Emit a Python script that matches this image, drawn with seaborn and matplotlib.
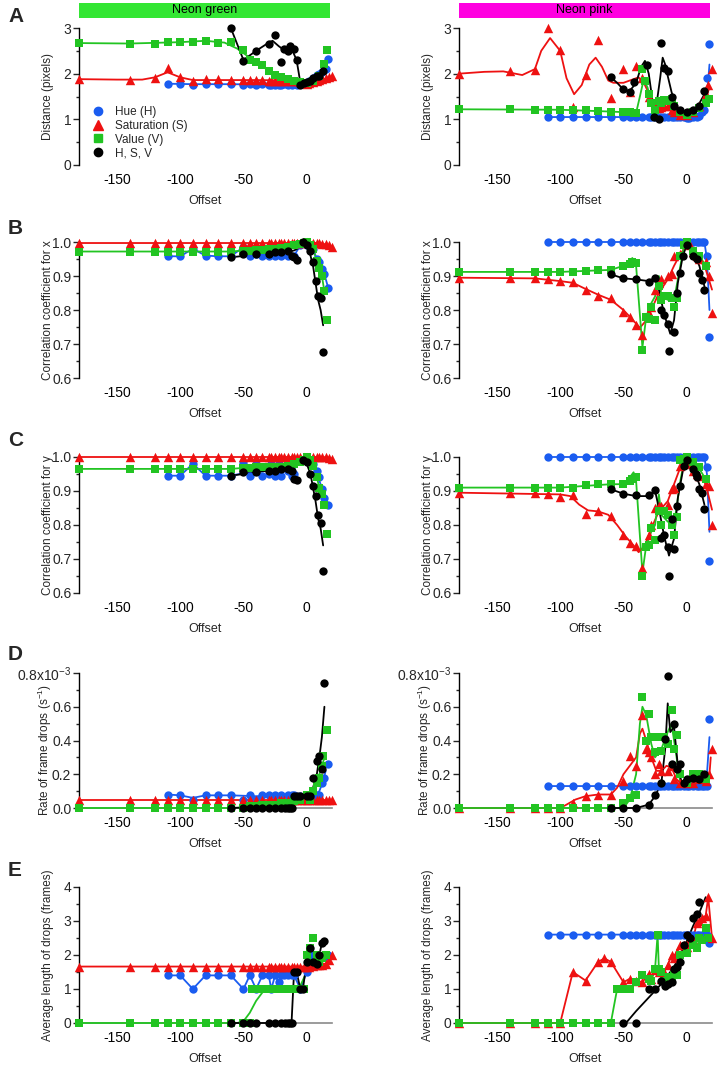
import matplotlib
matplotlib.use("Agg")
import matplotlib.pyplot as plt
from matplotlib.patches import Rectangle
from matplotlib.lines import Line2D
from matplotlib.ticker import MultipleLocator
import seaborn as sns

sns.set_theme(style="ticks")
plt.rcParams['font.family'] = ['Liberation Sans', 'DejaVu Sans']
plt.rcParams['axes.unicode_minus'] = False

# ---------------- data ----------------
SERIES = ['H', 'S', 'V', 'HSV']
LABELS = ['Hue (H)', 'Saturation (S)', 'Value (V)', 'H, S, V']
COLORS = {'H': '#1a5cf0', 'S': '#ee1111', 'V': '#22c422', 'HSV': '#000000'}
MARKERS = {'H': 'o', 'S': '^', 'V': 's', 'HSV': 'o'}
OFFSET_TICKS = [-150, -100, -50, 0]
BAND_TITLES = ['Neon green', 'Neon pink']
BAND_COLORS = ['#33e633', '#ff00e0']
PANEL_LETTERS = ['A', 'B', 'C', 'D', 'E']

X_S_LONG = [-180, -140, -120, -110, -100, -90, -80, -70, -60, -50, -45, -40, -35, -30, -28, -25, -22, -20,
            -18, -15, -12, -10, -8, -5, -2, 0, 2, 5, 8, 10, 12, 15, 18, 20]
X_H_PINK = [-110, -100, -90, -80, -70, -60, -50, -45, -40, -35, -30, -28, -25, -22, -20, -18, -15, -12,
            -10, -8, -5, -2, 0, 2, 5, 8, 10, 12, 14, 16, 18]

# --- A: distance, neon green ---
AL_H_x = [-110, -100, -90, -80, -70, -60, -50, -45, -40, -35, -30, -28, -25, -22, -20, -18, -15, -12, -10, -8,
          -5, -2, 0, 2, 5, 8, 10, 12, 15, 17]
AL_H_y = [1.78, 1.78, 1.76, 1.78, 1.78, 1.77, 1.76, 1.77, 1.76, 1.77, 1.76, 1.76, 1.76, 1.76, 1.76, 1.77, 1.76,
          1.76, 1.77, 1.76, 1.77, 1.78, 1.8, 1.84, 1.9, 1.97, 2.0, 2.04, 2.1, 2.33]
AL_H_cx = [-110, -90, -60, -30, -10, 0, 5, 10, 15]
AL_H_cy = [1.78, 1.77, 1.77, 1.76, 1.76, 1.78, 1.88, 1.98, 2.1]
AL_S_y = [1.88, 1.86, 1.9, 2.13, 1.92, 1.84, 1.88, 1.88, 1.87, 1.86, 1.86, 1.86, 1.86, 1.85, 1.85, 1.85, 1.85,
          1.85, 1.85, 1.85, 1.85, 1.84, 1.84, 1.82, 1.8, 1.78, 1.8, 1.82, 1.85, 1.87, 1.88, 1.9, 1.93, 1.95]
AL_S_cx = [-180, -150, -130, -120, -110, -100, -90, -70, -40, -10, 0, 10, 20]
AL_S_cy = [1.88, 1.87, 1.87, 1.92, 2.03, 1.92, 1.86, 1.86, 1.86, 1.85, 1.8, 1.85, 1.93]
AL_V_x = [-180, -140, -120, -110, -100, -90, -80, -70, -60, -50, -45, -40, -35, -30, -25, -20, -15, -10, -5, 0,
          5, 10, 14, 16]
AL_V_y = [2.67, 2.66, 2.66, 2.69, 2.69, 2.7, 2.72, 2.68, 2.69, 2.51, 2.3, 2.25, 2.2, 2.05, 1.98, 1.93, 1.88,
          1.85, 1.82, 1.8, 1.85, 1.95, 2.22, 2.52]
AL_V_cx = [-180, -140, -100, -80, -65, -55, -45, -35, -25, -15, -5, 0, 5, 10, 15]
AL_V_cy = [2.67, 2.66, 2.69, 2.72, 2.68, 2.55, 2.35, 2.15, 2.0, 1.88, 1.8, 1.8, 1.88, 2.0, 2.15]
AL_K_x = [-60, -50, -40, -30, -25, -20, -18, -15, -13, -10, -8, -5, -2, 0, 3, 5, 8, 10, 13]
AL_K_y = [3.0, 2.28, 2.5, 2.65, 2.85, 2.25, 2.55, 2.5, 2.6, 2.55, 2.3, 1.75, 1.8, 1.82, 1.85, 1.9, 1.95, 1.95, 2.05]
AL_K_cx = [-60, -50, -40, -30, -27, -22, -18, -12, -8, -5, 0, 5, 10, 13]
AL_K_cy = [3.0, 2.3, 2.5, 2.68, 2.72, 2.6, 2.52, 2.55, 2.3, 1.8, 1.82, 1.88, 1.95, 2.0]

# --- A: distance, neon pink ---
AR_H_y = [1.05, 1.05, 1.05, 1.05, 1.05, 1.05, 1.05, 1.05, 1.05, 1.05, 1.05, 1.05, 1.05, 1.05, 1.05, 1.05,
          1.05, 1.05, 1.05, 1.05, 1.05, 1.05, 1.04, 1.04, 1.05, 1.06, 1.08, 1.15, 1.2, 1.9, 2.65]
AR_H_cx = [-110, -60, -20, 0, 10, 14, 16, 18]
AR_H_cy = [1.05, 1.05, 1.05, 1.04, 1.06, 1.15, 1.5, 2.2]
AR_S_x = [-180, -140, -120, -110, -100, -90, -80, -70, -60, -50, -45, -40, -35, -30, -28, -25, -22, -20, -18,
          -15, -12, -10, -5, 0, 5, 10, 15, 17, 20]
AR_S_y = [2.0, 2.05, 2.08, 2.99, 2.52, 1.27, 1.97, 2.73, 1.47, 2.1, 1.6, 2.17, 1.9, 1.5, 1.4, 1.3, 1.25, 1.28,
          1.3, 1.3, 1.2, 1.15, 1.1, 1.1, 1.15, 1.3, 1.55, 1.75, 2.1]
AR_S_cx = [-180, -160, -145, -130, -120, -115, -108, -100, -95, -89, -83, -77, -72, -67, -62, -58, -50, -45,
           -38, -33, -28, -22, -15, -8, -3, 0, 5, 10, 15, 18]
AR_S_cy = [2.0, 2.04, 2.05, 1.97, 2.1, 2.5, 2.78, 2.5, 1.9, 1.55, 1.75, 2.2, 2.35, 2.15, 1.85, 1.8, 1.8, 1.85,
           1.92, 1.75, 1.45, 1.3, 1.25, 1.15, 1.1, 1.1, 1.12, 1.25, 1.45, 1.7]
AR_V_x = [-180, -140, -120, -110, -100, -90, -80, -70, -60, -50, -45, -42, -40, -35, -33, -30, -28, -25, -22,
          -20, -18, -15, -12, -10, -5, 0, 5, 10, 15, 18]
AR_V_y = [1.22, 1.22, 1.21, 1.21, 1.21, 1.2, 1.2, 1.19, 1.17, 1.16, 1.15, 1.14, 1.14, 2.1, 1.85, 1.55, 1.35,
          1.2, 1.4, 1.35, 1.42, 1.4, 1.45, 1.3, 1.15, 1.1, 1.15, 1.25, 1.35, 1.45]
AR_V_cx = [-180, -100, -60, -45, -40, -37, -34, -31, -28, -25, -22, -18, -12, -8, -3, 0, 5, 10, 15, 18]
AR_V_cy = [1.22, 1.21, 1.17, 1.15, 1.14, 1.5, 1.87, 1.7, 1.4, 1.25, 1.35, 1.4, 1.42, 1.25, 1.12, 1.1, 1.15,
           1.22, 1.33, 1.45]
AR_K_x = [-60, -50, -45, -42, -31, -26, -22, -20, -18, -15, -12, -10, -5, 0, 5, 10, 14]
AR_K_y = [1.93, 1.66, 1.6, 1.82, 2.19, 1.05, 1.0, 2.67, 2.12, 2.05, 1.5, 1.3, 1.2, 1.15, 1.2, 1.3, 1.62]
AR_K_cx = [-60, -55, -50, -45, -40, -36, -33, -30, -27, -24, -21, -19, -17, -15, -12, -8, -4, 0, 5, 10, 15]
AR_K_cy = [1.92, 1.8, 1.65, 1.62, 1.8, 2.15, 2.28, 2.0, 1.4, 1.3, 1.9, 2.35, 2.2, 1.95, 1.6, 1.25, 1.12, 1.1,
           1.2, 1.35, 1.6]

# --- B: correlation x, neon green ---
BL_H_x = [-110, -100, -90, -80, -70, -60, -50, -45, -40, -35, -30, -25, -20, -15, -10, -5, 0, 5, 8, 10, 12, 14, 17]
BL_H_y = [0.958, 0.958, 0.98, 0.96, 0.958, 0.958, 0.985, 0.958, 0.965, 0.958, 0.958, 0.96, 0.958, 0.958, 0.96,
          0.99, 0.99, 0.98, 0.95, 0.94, 0.92, 0.905, 0.865]
BL_S_y = [0.997] * 25 + [1.0, 0.999, 0.998, 0.997, 0.996, 0.995, 0.993, 0.99, 0.985]
X_V_GREEN = [-180, -140, -120, -110, -100, -90, -80, -70, -60, -50, -45, -40, -35, -30, -25, -20, -15, -10, -5,
             -2, 0, 3, 5, 8, 10, 12, 14, 16]
BL_V_y = [0.972, 0.972, 0.972, 0.972, 0.972, 0.972, 0.972, 0.972, 0.972, 0.975, 0.975, 0.976, 0.977, 0.978,
          0.98, 0.982, 0.985, 0.99, 0.993, 0.996, 1.0, 0.99, 0.98, 0.945, 0.925, 0.9, 0.855, 0.772]
X_K_GREEN = [-60, -50, -40, -30, -25, -20, -15, -12, -10, -8, -3, 0, 3, 5, 7, 9, 11, 13]
BL_K_y = [0.955, 0.965, 0.965, 0.965, 0.97, 0.97, 0.975, 0.96, 0.955, 0.948, 1.0, 0.99, 0.975, 0.94, 0.885,
          0.84, 0.835, 0.675]
BL_K_cx = [-60, -40, -20, -10, -5, -2, 0, 3, 5, 7, 9, 11, 13]
BL_K_cy = [0.955, 0.963, 0.968, 0.975, 0.985, 0.99, 0.985, 0.96, 0.93, 0.88, 0.83, 0.8, 0.755]

# --- B: correlation x, neon pink ---
BR_H_y = [1.0] * 29 + [0.958, 0.72]
BR_H_cx = [-110, 14, 16, 18]
BR_H_cy = [1.0, 1.0, 0.95, 0.8]
X_S_PINK = [-180, -140, -120, -110, -100, -90, -80, -70, -60, -50, -45, -40, -35, -30, -28, -25, -22, -20, -15,
            -12, -10, -5, 0, 3, 5, 8, 10, 15, 18, 20]
BR_S_y = [0.895, 0.895, 0.893, 0.89, 0.884, 0.883, 0.86, 0.84, 0.835, 0.795, 0.78, 0.757, 0.727, 0.79, 0.81,
          0.86, 0.88, 0.89, 0.9, 0.905, 0.96, 0.965, 0.995, 0.99, 0.97, 0.96, 0.95, 0.94, 0.9, 0.79]
BR_S_cx = [-180, -120, -100, -90, -80, -70, -60, -50, -45, -40, -37, -33, -28, -22, -15, -10, -5, 0, 2, 5, 10,
           15, 20]
BR_S_cy = [0.895, 0.893, 0.885, 0.88, 0.862, 0.845, 0.83, 0.8, 0.78, 0.76, 0.748, 0.765, 0.8, 0.85, 0.89, 0.93,
           0.965, 0.99, 1.0, 0.98, 0.95, 0.92, 0.86]
X_V_PINK = [-180, -140, -120, -110, -100, -90, -80, -70, -60, -50, -45, -43, -40, -35, -32, -30, -28, -25, -22,
            -20, -18, -15, -12, -10, -8, -5, -2, 0, 5, 10, 15]
BR_V_y = [0.912, 0.912, 0.912, 0.912, 0.912, 0.913, 0.915, 0.918, 0.918, 0.93, 0.935, 0.94, 0.938, 0.683, 0.78,
          0.775, 0.81, 0.77, 0.87, 0.83, 0.84, 0.84, 0.835, 0.81, 0.835, 0.96, 0.99, 1.0, 0.975, 0.96, 0.93]
BR_V_cx = [-180, -100, -60, -50, -45, -43, -40, -35, -32, -28, -25, -22, -20, -15, -10, -5, -2, 0, 5, 10, 15]
BR_V_cy = [0.912, 0.912, 0.918, 0.93, 0.94, 0.953, 0.93, 0.69, 0.78, 0.82, 0.84, 0.9, 0.84, 0.83, 0.83, 0.93,
           0.99, 0.995, 0.98, 0.96, 0.93]
BR_K_x = [-60, -50, -40, -30, -25, -20, -18, -15, -14, -10, -8, -5, -3, 0, 5, 8, 10, 12, 14]
BR_K_y = [0.907, 0.893, 0.892, 0.882, 0.895, 0.8, 0.785, 0.76, 0.68, 0.735, 0.85, 0.91, 0.96, 0.99, 0.96, 0.95,
          0.91, 0.888, 0.86]
BR_K_cx = [-60, -50, -40, -30, -25, -22, -18, -13, -10, -7, -3, 0, 5, 10, 14]
BR_K_cy = [0.905, 0.893, 0.89, 0.885, 0.895, 0.86, 0.79, 0.73, 0.77, 0.88, 0.96, 0.99, 0.97, 0.93, 0.87]

# --- C: correlation y, neon green ---
CL_H_x = [-110, -100, -90, -80, -70, -60, -50, -45, -40, -35, -30, -28, -25, -22, -20, -15, -12, -10, -5, 0, 5,
          8, 10, 12, 14, 17]
CL_H_y = [0.945, 0.945, 0.98, 0.945, 0.945, 0.945, 0.983, 0.945, 0.98, 0.945, 0.95, 0.98, 0.945, 0.98, 0.945,
          0.96, 0.945, 0.95, 0.99, 0.99, 0.98, 0.96, 0.94, 0.905, 0.88, 0.858]
CL_H_cx = [-110, -100, -90, -80, -70, -60, -40, -20, -10, -5, 0, 5, 10, 15, 17]
CL_H_cy = [0.945, 0.945, 0.98, 0.945, 0.945, 0.945, 0.96, 0.96, 0.965, 0.985, 0.99, 0.975, 0.93, 0.88, 0.86]
CL_S_y = [1.0] * 31 + [0.999, 0.998, 0.995]
CL_V_y = [0.965] * 9 + [0.968, 0.968, 0.97, 0.97, 0.97, 0.97, 0.972, 0.975, 0.978, 0.985, 0.99, 1.0, 0.99,
                        0.975, 0.94, 0.91, 0.89, 0.86, 0.775]
CL_K_y = [0.945, 0.955, 0.955, 0.96, 0.96, 0.965, 0.965, 0.96, 0.935, 0.932, 0.99, 0.985, 0.95, 0.915, 0.885,
          0.83, 0.805, 0.665]
CL_K_cx = [-60, -40, -20, -10, -5, -2, 0, 3, 5, 7, 9, 11, 13]
CL_K_cy = [0.945, 0.955, 0.965, 0.97, 0.985, 0.99, 0.98, 0.95, 0.91, 0.87, 0.82, 0.79, 0.74]

# --- C: correlation y, neon pink ---
CR_H_y = [1.0] * 29 + [0.97, 0.695]
CR_H_cx = [-110, 14, 16, 18]
CR_H_cy = [1.0, 1.0, 0.95, 0.78]
CR_S_y = [0.895, 0.895, 0.893, 0.89, 0.882, 0.887, 0.832, 0.842, 0.826, 0.77, 0.748, 0.737, 0.675, 0.77, 0.8,
          0.85, 0.855, 0.855, 0.86, 0.905, 0.91, 0.975, 0.99, 0.98, 0.96, 0.95, 0.945, 0.92, 0.915, 0.8]
CR_S_cx = [-180, -100, -92, -85, -78, -70, -62, -55, -48, -42, -38, -33, -28, -22, -15, -10, -5, 0, 5, 10, 15, 20]
CR_S_cy = [0.895, 0.89, 0.885, 0.86, 0.843, 0.84, 0.83, 0.8, 0.765, 0.74, 0.72, 0.74, 0.79, 0.84, 0.87, 0.92,
           0.97, 0.99, 0.975, 0.95, 0.92, 0.845]
CR_V_y = [0.91, 0.91, 0.91, 0.91, 0.91, 0.91, 0.918, 0.92, 0.922, 0.92, 0.93, 0.935, 0.94, 0.65, 0.735, 0.74,
          0.79, 0.755, 0.84, 0.8, 0.84, 0.83, 0.8, 0.77, 0.825, 0.99, 0.995, 1.0, 0.985, 0.97, 0.935]
CR_V_cx = [-180, -100, -60, -50, -45, -42, -40, -35, -32, -28, -25, -22, -20, -15, -10, -5, -2, 0, 5, 10, 15]
CR_V_cy = [0.91, 0.91, 0.92, 0.92, 0.94, 0.955, 0.93, 0.66, 0.74, 0.78, 0.8, 0.89, 0.83, 0.81, 0.8, 0.93, 0.99,
           1.0, 0.985, 0.965, 0.935]
CR_K_x = [-60, -50, -40, -30, -25, -20, -18, -15, -14, -12, -10, -8, -5, -2, 0, 5, 7, 8, 10, 12, 14]
CR_K_y = [0.907, 0.892, 0.888, 0.887, 0.902, 0.762, 0.77, 0.735, 0.65, 0.818, 0.728, 0.857, 0.915, 0.975, 0.99,
          0.965, 0.95, 0.94, 0.905, 0.895, 0.848]
CR_K_cx = [-60, -50, -40, -30, -25, -22, -18, -14, -10, -7, -3, 0, 5, 10, 14]
CR_K_cy = [0.905, 0.892, 0.885, 0.885, 0.9, 0.85, 0.77, 0.71, 0.76, 0.88, 0.96, 0.99, 0.965, 0.92, 0.86]

# --- D: rate of frame drops (x10^-3), neon green ---
DL_H_x = [-110, -100, -90, -80, -70, -60, -50, -45, -40, -35, -30, -25, -20, -15, -12, -10, -5, 0, 5, 8, 10, 12,
          14, 17]
DL_H_y = [0.08, 0.08, 0.05, 0.08, 0.08, 0.08, 0.05, 0.08, 0.05, 0.08, 0.08, 0.08, 0.08, 0.08, 0.08, 0.08, 0.07,
          0.07, 0.06, 0.08, 0.08, 0.15, 0.18, 0.26]
DL_H_cx = [-110, -100, -90, -80, -60, -40, -20, -10, 0, 5, 10, 13, 15]
DL_H_cy = [0.08, 0.075, 0.06, 0.075, 0.075, 0.07, 0.075, 0.07, 0.06, 0.06, 0.1, 0.16, 0.22]
DL_S_y = [0.05] * 34
DL_V_x = [-180, -140, -120, -110, -100, -90, -80, -70, -60, -50, -45, -40, -35, -30, -25, -20, -15, -10, -5, 0,
          3, 5, 8, 10, 12, 13, 16]
DL_V_y = [0, 0, 0, 0, 0, 0, 0, 0, 0, 0, 0.01, 0.01, 0.02, 0.02, 0.02, 0.03, 0.03, 0.04, 0.05, 0.08, 0.05, 0.1,
          0.15, 0.18, 0.25, 0.31, 0.46]
DL_V_cx = [-180, -60, -50, -40, -30, -20, -10, -5, 0, 5, 8, 10, 12, 15]
DL_V_cy = [0, 0, 0.003, 0.01, 0.015, 0.02, 0.03, 0.04, 0.06, 0.1, 0.15, 0.2, 0.25, 0.32]
DL_K_x = [-60, -50, -45, -40, -35, -30, -25, -20, -17, -15, -13, -12, -10, -8, -5, 0, 3, 5, 8, 10, 12, 14]
DL_K_y = [0, 0, 0, 0, 0, 0, 0, 0, 0, 0, 0, 0, 0.07, 0.07, 0.07, 0.07, 0.07, 0.18, 0.28, 0.31, 0.23, 0.74]
DL_K_cx = [-60, -40, -20, -10, -5, 0, 3, 5, 8, 10, 12, 14]
DL_K_cy = [0, 0.005, 0.01, 0.02, 0.03, 0.05, 0.08, 0.12, 0.2, 0.3, 0.42, 0.6]

# --- D: rate of frame drops (x10^-3), neon pink ---
DR_H_y = [0.13] * 30 + [0.53]
DR_H_cx = [-110, 15, 16, 18]
DR_H_cy = [0.13, 0.13, 0.2, 0.42]
DR_S_x = [-180, -140, -120, -110, -100, -90, -80, -70, -60, -50, -45, -40, -35, -32, -30, -28, -25, -22, -20,
          -15, -12, -10, -5, 0, 5, 10, 15, 18, 20]
DR_S_y = [0, 0, 0, 0, 0, 0.03, 0.07, 0.08, 0.08, 0.16, 0.31, 0.25, 0.55, 0.35, 0.33, 0.3, 0.2, 0.26, 0.22, 0.22,
          0.25, 0.17, 0.15, 0.15, 0.15, 0.17, 0.16, 0.2, 0.35]
DR_S_cx = [-180, -100, -95, -88, -80, -70, -60, -55, -50, -45, -40, -37, -35, -32, -28, -24, -20, -16, -12, -8,
           -5, 0, 5, 10, 15, 18, 19]
DR_S_cy = [0, 0, 0.02, 0.05, 0.07, 0.08, 0.08, 0.12, 0.2, 0.25, 0.3, 0.44, 0.47, 0.4, 0.3, 0.22, 0.22, 0.25,
           0.24, 0.17, 0.15, 0.14, 0.15, 0.15, 0.17, 0.2, 0.3]
DR_V_x = [-180, -140, -120, -110, -100, -90, -80, -70, -60, -50, -45, -40, -35, -32, -30, -28, -25, -22, -20,
          -18, -15, -12, -10, -8, -5, 0, 5, 10, 15]
DR_V_y = [0, 0, 0, 0, 0, 0, 0, 0, 0, 0.03, 0.06, 0.08, 0.66, 0.4, 0.56, 0.42, 0.33, 0.42, 0.34, 0.42, 0.38, 0.58,
          0.35, 0.43, 0.2, 0.15, 0.2, 0.2, 0.17]
DR_V_cx = [-180, -50, -45, -40, -37, -35, -32, -28, -25, -20, -15, -12, -8, -5, 0, 5, 10, 15]
DR_V_cy = [0, 0, 0.05, 0.2, 0.5, 0.6, 0.55, 0.38, 0.3, 0.35, 0.45, 0.5, 0.3, 0.15, 0.13, 0.16, 0.18, 0.17]
DR_K_x = [-60, -50, -40, -30, -25, -20, -17, -15, -12, -10, -8, -5, -2, 0, 5, 10, 14]
DR_K_y = [0, 0, 0, 0.02, 0.08, 0.15, 0.41, 0.78, 0.26, 0.5, 0.23, 0.26, 0.15, 0.17, 0.18, 0.17, 0.2]
DR_K_cx = [-60, -40, -30, -25, -20, -17, -15, -13, -10, -7, -4, 0, 5, 10, 14]
DR_K_cy = [0, 0, 0.02, 0.07, 0.15, 0.35, 0.62, 0.45, 0.48, 0.25, 0.15, 0.15, 0.17, 0.17, 0.18]

# --- E: average length of drops, neon green ---
EL_H_x = [-110, -100, -90, -80, -70, -60, -50, -45, -40, -35, -30, -28, -25, -22, -20, -18, -15, -12, -10, -5,
          0, 5, 8, 10, 14, 17]
EL_H_y = [1.4, 1.4, 1.0, 1.4, 1.4, 1.4, 1.0, 1.4, 1.0, 1.4, 1.4, 1.0, 1.4, 1.2, 1.4, 1.4, 1.4, 1.4, 1.4, 1.0,
          1.5, 2.0, 2.0, 1.9, 1.95, 2.0]
EL_S_y = [1.66] * 27 + [1.68, 1.7, 1.7, 1.72, 1.75, 1.85, 2.0]
EL_V_x = [-180, -140, -120, -110, -100, -90, -80, -70, -60, -50, -45, -43, -40, -38, -35, -33, -30, -28, -25,
          -22, -20, -18, -15, -12, -10, -8, -5, -2, 0, 3, 5, 8, 10, 12, 15]
EL_V_y = [0] * 11 + [1.0] * 17 + [2.0, 2.2, 2.5, 2.0, 1.8, 1.9, 2.0]
EL_V_cx = [-180, -55, -50, -45, -40, -35, -30, -20, -10, -5, 0, 3, 5, 10, 15]
EL_V_cy = [0, 0, 0.05, 0.3, 0.65, 0.9, 1.0, 1.0, 1.02, 1.1, 1.5, 1.85, 2.0, 2.0, 2.0]
EL_K_x = [-60, -50, -45, -40, -30, -25, -20, -17, -15, -13, -12, -10, -8, -5, -3, 0, 3, 5, 8, 10, 12, 14]
EL_K_y = [0, 0, 0, 0, 0, 0, 0, 0, 0, 0, 0, 1.5, 1.5, 1.0, 1.0, 1.8, 2.2, 1.8, 1.75, 2.0, 2.35, 2.4]

# --- E: average length of drops, neon pink ---
ER_H_y = [2.6] * 30 + [2.35]
ER_S_x = [-180, -140, -120, -110, -100, -90, -80, -70, -65, -60, -50, -45, -40, -35, -30, -28, -25, -22, -20,
          -18, -15, -12, -10, -8, -5, -2, 0, 3, 5, 8, 10, 12, 15, 17, 20]
ER_S_y = [0, 0, 0, 0, 0, 1.5, 1.25, 1.8, 1.9, 1.8, 1.2, 1.3, 1.25, 1.2, 1.45, 1.3, 1.55, 1.5, 1.3, 1.5, 1.7,
          2.0, 1.9, 2.1, 2.3, 2.3, 2.25, 2.5, 2.45, 2.95, 3.0, 3.1, 3.15, 3.7, 2.5]
ER_V_x = [-180, -140, -120, -110, -100, -90, -80, -70, -60, -55, -50, -45, -40, -35, -30, -28, -25, -23, -22,
          -20, -18, -15, -12, -10, -8, -5, 0, 5, 8, 10, 12, 15, 17]
ER_V_y = [0, 0, 0, 0, 0, 0, 0, 0, 0, 1.0, 1.0, 1.0, 1.2, 1.4, 1.3, 1.25, 1.6, 2.6, 1.6, 1.5, 1.25, 1.35, 1.3,
          1.4, 1.4, 2.0, 2.05, 2.3, 2.2, 2.5, 2.45, 2.8, 2.5]
ER_K_x = [-50, -40, -30, -25, -20, -17, -15, -12, -10, -8, -5, -2, 0, 3, 5, 8, 10]
ER_K_y = [0, 0, 1.0, 1.0, 1.25, 1.1, 1.15, 1.2, 1.6, 1.65, 1.8, 2.3, 2.6, 2.5, 3.1, 3.2, 3.55]
ER_K_cx = [-48, -40, -30, -20, -10, 0, 5, 10, 15]
ER_K_cy = [0, 0.35, 0.75, 1.15, 1.65, 2.4, 2.85, 3.25, 3.7]

# ---------------- assemble (points x, y, curve x, curve y) ----------------
PANELS = {
    ('A', 0): {'H': (AL_H_x, AL_H_y, AL_H_cx, AL_H_cy), 'S': (X_S_LONG, AL_S_y, AL_S_cx, AL_S_cy),
               'V': (AL_V_x, AL_V_y, AL_V_cx, AL_V_cy), 'HSV': (AL_K_x, AL_K_y, AL_K_cx, AL_K_cy)},
    ('A', 1): {'H': (X_H_PINK, AR_H_y, AR_H_cx, AR_H_cy), 'S': (AR_S_x, AR_S_y, AR_S_cx, AR_S_cy),
               'V': (AR_V_x, AR_V_y, AR_V_cx, AR_V_cy), 'HSV': (AR_K_x, AR_K_y, AR_K_cx, AR_K_cy)},
    ('B', 0): {'H': (BL_H_x, BL_H_y, BL_H_x, BL_H_y), 'S': (X_S_LONG, BL_S_y, X_S_LONG, BL_S_y),
               'V': (X_V_GREEN, BL_V_y, X_V_GREEN[:-1], BL_V_y[:-1]),
               'HSV': (X_K_GREEN, BL_K_y, BL_K_cx, BL_K_cy)},
    ('B', 1): {'H': (X_H_PINK, BR_H_y, BR_H_cx, BR_H_cy), 'S': (X_S_PINK, BR_S_y, BR_S_cx, BR_S_cy),
               'V': (X_V_PINK, BR_V_y, BR_V_cx, BR_V_cy), 'HSV': (BR_K_x, BR_K_y, BR_K_cx, BR_K_cy)},
    ('C', 0): {'H': (CL_H_x, CL_H_y, CL_H_cx, CL_H_cy), 'S': (X_S_LONG, CL_S_y, X_S_LONG, CL_S_y),
               'V': (X_V_GREEN, CL_V_y, X_V_GREEN[:-1], CL_V_y[:-1]),
               'HSV': (X_K_GREEN, CL_K_y, CL_K_cx, CL_K_cy)},
    ('C', 1): {'H': (X_H_PINK, CR_H_y, CR_H_cx, CR_H_cy), 'S': (X_S_PINK, CR_S_y, CR_S_cx, CR_S_cy),
               'V': (X_V_PINK, CR_V_y, CR_V_cx, CR_V_cy), 'HSV': (CR_K_x, CR_K_y, CR_K_cx, CR_K_cy)},
    ('D', 0): {'H': (DL_H_x, DL_H_y, DL_H_cx, DL_H_cy), 'S': (X_S_LONG, DL_S_y, X_S_LONG, DL_S_y),
               'V': (DL_V_x, DL_V_y, DL_V_cx, DL_V_cy), 'HSV': (DL_K_x, DL_K_y, DL_K_cx, DL_K_cy)},
    ('D', 1): {'H': (X_H_PINK, DR_H_y, DR_H_cx, DR_H_cy), 'S': (DR_S_x, DR_S_y, DR_S_cx, DR_S_cy),
               'V': (DR_V_x, DR_V_y, DR_V_cx, DR_V_cy), 'HSV': (DR_K_x, DR_K_y, DR_K_cx, DR_K_cy)},
    ('E', 0): {'H': (EL_H_x, EL_H_y, EL_H_x, EL_H_y), 'S': (X_S_LONG, EL_S_y, X_S_LONG, EL_S_y),
               'V': (EL_V_x, EL_V_y, EL_V_cx, EL_V_cy), 'HSV': (EL_K_x, EL_K_y, EL_K_x, EL_K_y)},
    ('E', 1): {'H': (X_H_PINK, ER_H_y, X_H_PINK, ER_H_y), 'S': (ER_S_x, ER_S_y, ER_S_x, ER_S_y),
               'V': (ER_V_x, ER_V_y, ER_V_x, ER_V_y), 'HSV': (ER_K_x, ER_K_y, ER_K_cx, ER_K_cy)},
}

YCFG = {
    'A': dict(lim=(0, 3), ticks=[0, 1, 2, 3], labels=['0', '1', '2', '3'], minor=0.5,
              ylabel='Distance (pixels)', ly=0.5),
    'B': dict(lim=(0.6, 1.0), ticks=[0.6, 0.7, 0.8, 0.9, 1.0], labels=['0.6', '0.7', '0.8', '0.9', '1.0'],
              minor=0.05, ylabel='Correlation coefficient for x', ly=0.5),
    'C': dict(lim=(0.6, 1.0), ticks=[0.6, 0.7, 0.8, 0.9, 1.0], labels=['0.6', '0.7', '0.8', '0.9', '1.0'],
              minor=0.05, ylabel='Correlation coefficient for y', ly=0.5),
    'D': dict(lim=(0, 0.8), ticks=[0, 0.2, 0.4, 0.6, 0.8],
              labels=['0.0', '0.2', '0.4', '0.6', r'0.8x10$^{\mathregular{-3}}$'], minor=0.1,
              ylabel=r'Rate of frame drops (s$^{\mathregular{-1}}$)', ly=0.43),
    'E': dict(lim=(0, 4), ticks=[0, 1, 2, 3, 4], labels=['0', '1', '2', '3', '4'], minor=0.5,
              ylabel='Average length of drops (frames)', ly=0.5),
}

# ---------------- layout (pixels) ----------------
W, H = 718, 1067
ROW_PX = {'A': (28, 165), 'B': (242, 378), 'C': (457, 593), 'D': (673, 808), 'E': (887, 1023)}
COL_LEFT = [79, 459]
AX_W = 253
LETTER_Y = {'A': 16, 'B': 228, 'C': 440, 'D': 655, 'E': 870}

fig = plt.figure(figsize=(W / 100, H / 100), dpi=100)
fig.patch.set_facecolor('white')

for row in PANEL_LETTERS:
    top, bot = ROW_PX[row]
    cfg = YCFG[row]
    for side in (0, 1):
        ax = fig.add_axes([COL_LEFT[side] / W, 1 - bot / H, AX_W / W, (bot - top) / H])
        ax.set_facecolor('white')
        data = PANELS[(row, side)]
        for key in SERIES:
            px, py, cx, cy = data[key]
            sns.lineplot(x=cx, y=cy, ax=ax, color=COLORS[key], lw=1.3, estimator=None, sort=False,
                         zorder=3, clip_on=False)
            sns.scatterplot(x=px, y=py, ax=ax, color=COLORS[key], marker=MARKERS[key],
                            s=46 if key == 'S' else 36, linewidth=0, zorder=4, clip_on=False)
        ax.set_xlim(-180, 20)
        ax.set_ylim(*cfg['lim'])
        ax.set_yticks(cfg['ticks'])
        ax.set_yticklabels(cfg['labels'])
        ax.yaxis.set_minor_locator(MultipleLocator(cfg['minor']))
        ax.set_xticks(OFFSET_TICKS)
        ax.set_xticklabels([str(t) for t in OFFSET_TICKS])
        ax.tick_params(axis='x', length=0, pad=6, labelsize=10, colors='black')
        ax.tick_params(axis='y', which='major', length=4, width=1, pad=1.5, labelsize=10, direction='out')
        ax.tick_params(axis='y', which='minor', length=2.5, width=1, direction='out')
        for sp in ('top', 'right'):
            ax.spines[sp].set_visible(False)
        ax.spines['left'].set_color('black')
        ax.spines['left'].set_linewidth(1)
        if row in ('D', 'E'):
            ax.spines['bottom'].set_color('#8a8a8a')
            ax.spines['bottom'].set_linewidth(1.2)
        else:
            ax.spines['bottom'].set_visible(False)
        ax.set_xlabel('Offset', fontsize=9)
        ax.xaxis.set_label_coords(0.5, -0.22)
        ax.set_ylabel(cfg['ylabel'], fontsize=8.5)
        ax.yaxis.set_label_coords(-0.1, cfg['ly'])
        ax.grid(False)

        if row == 'A':
            ax.add_patch(Rectangle((0, 1.075), 0.992, 0.108, transform=ax.transAxes,
                                   facecolor=BAND_COLORS[side], edgecolor='none', clip_on=False))
            ax.text(0.496, 1.129, BAND_TITLES[side], transform=ax.transAxes, ha='center', va='center',
                    fontsize=9, color='black')
            if side == 0:
                handles = [Line2D([], [], linestyle='none', marker=MARKERS[k], color=COLORS[k],
                                  markersize=7 if k == 'S' else 6) for k in SERIES]
                ax.legend(handles, LABELS, loc='lower left', bbox_to_anchor=(0.02, -0.01), frameon=False,
                          fontsize=8.5, handletextpad=0.8, labelspacing=0.15, borderaxespad=0.2,
                          handlelength=1.2)

    fig.text(8 / W, 1 - LETTER_Y[row] / H, row, fontsize=15, fontweight='bold', ha='left', va='center')

fig.savefig('out.png', dpi=100, facecolor='white')
